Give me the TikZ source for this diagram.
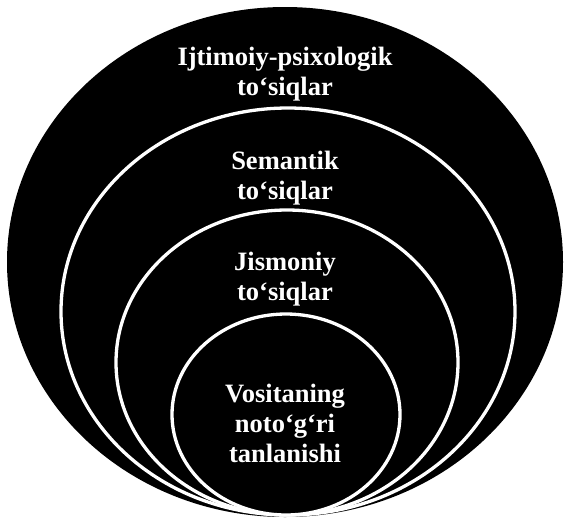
\documentclass[tikz,border=0pt]{standalone}
\usepackage{fontspec}
\setmainfont{Liberation Serif}
\begin{document}
\begin{tikzpicture}[x=1pt,y=-1pt,
  ring/.style={draw=white,fill=black,line width=3.3pt},
  lbl/.style={text=white,align=center,inner sep=0pt,font=\bfseries\fontsize{26.5}{30}\selectfont}]
\useasboundingbox (0,0) rectangle (565,517);
\fill[black] (285,262) ellipse [x radius=278pt, y radius=255pt];
\draw[ring] (288,311.5) ellipse [x radius=227pt, y radius=203.5pt];
\draw[ring] (287,362.5) ellipse [x radius=171pt, y radius=152.5pt];
\draw[ring] (286,414.5) ellipse [x radius=114pt, y radius=100.5pt];
\node[lbl] (t1) at (285,74) {Ijtimoiy-psixologik\\to‘siqlar};
\node[lbl] (t2) at (285,178) {Semantik\\to‘siqlar};
\node[lbl] (t3) at (285,279) {Jismoniy\\to‘siqlar};
\node[lbl] (t4) at (285,423) {Vositaning\\noto‘g‘ri\\tanlanishi};
\end{tikzpicture}
\end{document}
